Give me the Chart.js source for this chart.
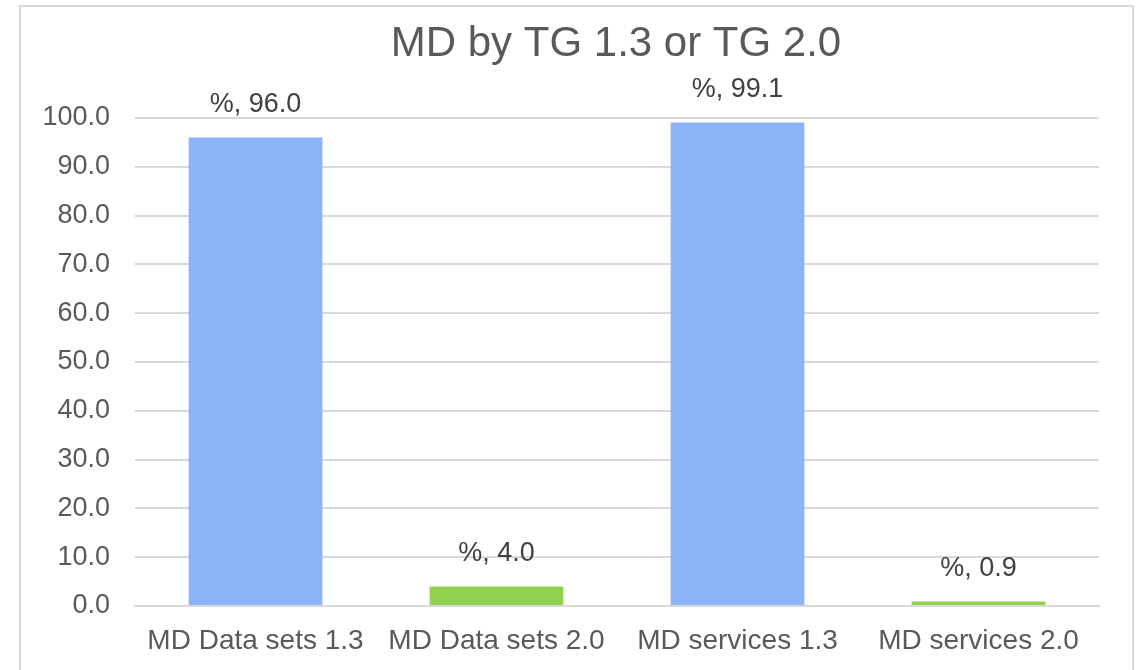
<!DOCTYPE html>
<html>
<head>
<meta charset="utf-8">
<script src="https://cdn.jsdelivr.net/npm/chart.js@4/dist/chart.umd.min.js"></script>
<style>
  html, body { margin: 0; padding: 0; background: #fff; overflow: hidden; }
  #frame {
    position: absolute; left: 19px; top: 5px;
    width: 1111px; height: 700px;
    border: 2px solid #d9d9d9;
  }
  #wrap { position: absolute; left: 0; top: 0; width: 1140px; height: 670px; }
</style>
</head>
<body>
<div id="frame"></div>
<div id="wrap"><canvas id="chart" width="1140" height="670"></canvas></div>
<script>
const categories = ['MD Data sets 1.3', 'MD Data sets 2.0', 'MD services 1.3', 'MD services 2.0'];
const percentValues = [96.0, 4.0, 99.1, 0.9];
const barColors = ['#8eb4f8', '#92d050', '#8eb4f8', '#92d050'];
const yTicks = [0, 10, 20, 30, 40, 50, 60, 70, 80, 90, 100];
const chartTitle = 'MD by TG 1.3 or TG 2.0';

const FONT = '"Liberation Sans", Arial, sans-serif';

// title centred over plot area + value labels above bars
const decorations = {
    id: 'decorations',
    afterDatasetsDraw(chart) {
        const ctx = chart.ctx;
        const area = chart.chartArea;
        ctx.save();
        ctx.fillStyle = '#595959';
        ctx.font = '42px ' + FONT;
        ctx.textAlign = 'center';
        ctx.textBaseline = 'middle';
        ctx.fillText(chartTitle, (area.left + area.right) / 2 - 1, 44);

        ctx.fillStyle = '#404040';
        ctx.font = '27px ' + FONT;
        const meta = chart.getDatasetMeta(0);
        meta.data.forEach((bar, i) => {
            ctx.fillText('%, ' + percentValues[i].toFixed(1), bar.x, bar.y - 33);
        });
        ctx.restore();
    }
};

new Chart(document.getElementById('chart'), {
    type: 'bar',
    data: {
        labels: categories,
        datasets: [{
            data: percentValues,
            backgroundColor: barColors,
            borderWidth: 0,
            categoryPercentage: 1,
            barPercentage: 0.555
        }]
    },
    options: {
        responsive: false,
        animation: false,
        layout: { padding: { left: 0, right: 41, top: 118, bottom: 0 } },
        plugins: {
            legend: { display: false },
            title: { display: false },
            tooltip: { enabled: false }
        },
        scales: {
            x: {
                grid: { display: false, drawTicks: false },
                border: { color: '#d9d9d9', width: 2 },
                ticks: { color: '#595959', font: { family: FONT, size: 28 }, padding: 18, maxRotation: 0, autoSkip: false },
                afterFit(scale) { scale.height = 64; }
            },
            y: {
                min: 0,
                max: 100,
                afterBuildTicks(scale) { scale.ticks = yTicks.map(v => ({ value: v })); },
                grid: { color: '#d9d9d9', lineWidth: 2, drawTicks: false },
                border: { display: false },
                ticks: {
                    color: '#595959',
                    font: { family: FONT, size: 27 },
                    padding: 25,
                    callback: v => v.toFixed(1)
                },
                afterFit(scale) { scale.width = 135; }
            }
        }
    },
    plugins: [decorations]
});
</script>
</body>
</html>
